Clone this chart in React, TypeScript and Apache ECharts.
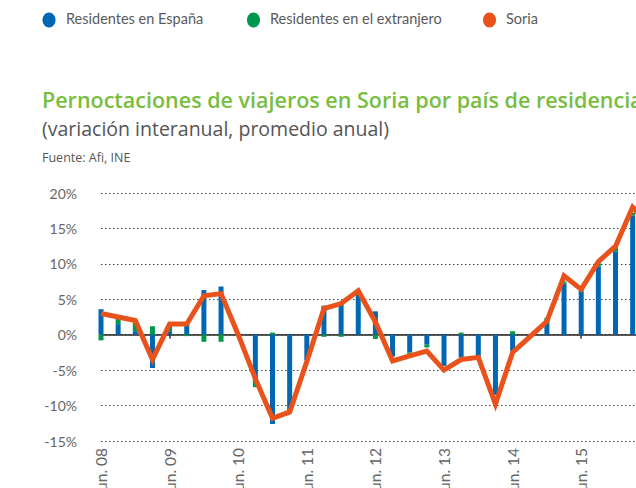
import React, { useEffect, useRef } from "react";
import * as echarts from "echarts";

const categories = [
  "jun. 08", "sep. 08", "dic. 08", "mar. 09",
  "jun. 09", "sep. 09", "dic. 09", "mar. 10",
  "jun. 10", "sep. 10", "dic. 10", "mar. 11",
  "jun. 11", "sep. 11", "dic. 11", "mar. 12",
  "jun. 12", "sep. 12", "dic. 12", "mar. 13",
  "jun. 13", "sep. 13", "dic. 13", "mar. 14",
  "jun. 14", "sep. 14", "dic. 14", "mar. 15",
  "jun. 15", "sep. 15", "dic. 15", "mar. 16",
  "jun. 16",
];

const residentesEspana = [
  3.6, 1.5, 0.5, -4.7,
  0.5, 1.8, 6.3, 6.8,
  0.0, -6.5, -12.6, -10.7,
  -3.6, 4.1, 4.4, 6.1,
  3.3, -3.1, -2.5, -1.4,
  -4.4, -3.2, -3.2, -8.5,
  -2.3, -0.3, 1.9, 7.2,
  6.2, 9.6, 11.7, 16.8,
  15.0,
];

const residentesExtranjero = [
  -0.8, 0.8, 1.2, 1.2,
  1.0, -0.2, -1.0, -1.0,
  0.0, -0.9, 0.3, 0.0,
  0.0, -0.3, -0.3, 0.0,
  -0.6, 0.0, -0.5, -0.4,
  0.0, 0.3, 0.0, 0.0,
  0.5, 0.0, 0.5, 0.3,
  0.6, 0.7, 0.8, 0.4,
  0.5,
];

const soria = [
  3.0, 2.5, 2.0, -3.5,
  1.5, 1.5, 5.5, 5.8,
  0.0, -6.2, -11.8, -10.9,
  -3.8, 3.7, 4.4, 6.2,
  1.8, -3.7, -3.0, -2.3,
  -5.0, -3.5, -3.2, -9.8,
  -2.5, -0.3, 1.9, 8.3,
  6.4, 10.3, 12.5, 18.0,
  15.5,
];

const yTicks = { min: -15, max: 20, interval: 5 };

const seriesNames = ["Residentes en España", "Residentes en el extranjero", "Soria"];
const colors = ["#0067b4", "#00984a", "#e9531b"];

const FONT = "Lato, 'Noto Sans', sans-serif";
const FONT2 = "'Open Sans', 'Noto Sans', sans-serif";

export default function App() {
  const ref = useRef<HTMLDivElement>(null);

  useEffect(() => {
    if (!ref.current) return;
    const chart = echarts.init(ref.current, null, { renderer: "svg" });
    const step = 17.15;
    const legendDotX = [49, 253.5, 489.5];
    const legendTextX = [66, 270, 506];
    chart.setOption({
      animation: false,
      backgroundColor: "#ffffff",
      textStyle: { fontFamily: FONT },
      legend: { show: false },
      graphic: [
        ...seriesNames.flatMap((name, i) => [
          {
            type: "ellipse",
            shape: { cx: legendDotX[i], cy: 20, rx: 6.5, ry: 7.5 },
            style: { fill: colors[i] },
          },
          {
            type: "text",
            left: legendTextX[i],
            top: 11,
            style: { text: name, fill: "#5a5a5a", font: `14.5px ${FONT}` },
          },
        ]),
        {
          type: "text",
          left: 42,
          top: 88,
          style: {
            text: "Pernoctaciones de viajeros en Soria por país de residencia",
            fill: "#78bd3e",
            font: `600 21.5px ${FONT2}`,
          },
        },
        {
          type: "text",
          left: 42,
          top: 118,
          style: {
            text: "(variación interanual, promedio anual)",
            fill: "#555555",
            font: `19.5px ${FONT2}`,
          },
        },
        {
          type: "text",
          left: 42,
          top: 151,
          style: { text: "Fuente: Afi, INE", fill: "#555555", font: `12.5px ${FONT2}` },
        },
      ],
      grid: {
        left: 101,
        top: 193,
        height: 248,
        width: step * (categories.length - 1),
        containLabel: false,
        outerBoundsMode: "none",
      },
      xAxis: [
        {
          type: "category",
          data: categories,
          boundaryGap: false,
          axisLine: { onZero: true, lineStyle: { color: "#222", width: 1.5 } },
          axisTick: { show: true, interval: 3, length: 4, lineStyle: { color: "#333", width: 1.5 } },
          axisLabel: { show: false },
          splitLine: { show: false },
        },
        {
          type: "category",
          data: categories,
          boundaryGap: false,
          position: "bottom",
          axisLine: { show: false, onZero: false },
          axisTick: { show: false },
          axisLabel: {
            show: true,
            interval: (index: number) => index % 4 === 0 && index < 32,
            rotate: 90,
            margin: 7,
            color: "#666",
            fontSize: 15.5,
            fontFamily: FONT,
          },
          splitLine: { show: false },
        },
      ],
      yAxis: {
        type: "value",
        min: yTicks.min,
        max: yTicks.max,
        interval: yTicks.interval,
        axisLine: { show: false },
        axisTick: { show: false },
        axisLabel: {
          formatter: "{value}%",
          color: "#666",
          fontSize: 14,
          fontFamily: FONT,
          margin: 24,
        },
        splitLine: { show: true, lineStyle: { color: "#444", type: [1.5, 2.5], width: 1 } },
      },
      series: [
        {
          name: seriesNames[0],
          type: "bar",
          stack: "total",
          barWidth: 5,
          data: residentesEspana,
          itemStyle: { color: colors[0] },
        },
        {
          name: seriesNames[1],
          type: "bar",
          stack: "total",
          barWidth: 5,
          data: residentesExtranjero,
          itemStyle: { color: colors[1] },
        },
        {
          name: seriesNames[2],
          type: "line",
          data: soria,
          symbol: "none",
          lineStyle: { color: colors[2], width: 5, join: "miter" },
          itemStyle: { color: colors[2] },
          z: 5,
        },
      ],
    });
    return () => chart.dispose();
  }, []);

  return (
    <div
      style={{
        position: "fixed",
        left: 0,
        top: 0,
        width: 636,
        height: 488,
        overflow: "hidden",
        background: "#fff",
      }}
    >
      <div ref={ref} style={{ width: 700, height: 488 }} />
    </div>
  );
}
